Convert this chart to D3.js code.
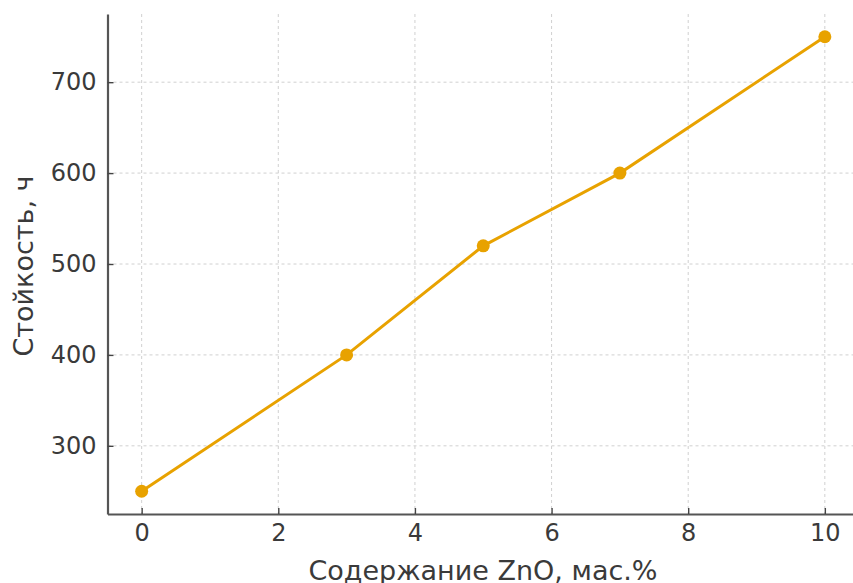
<!DOCTYPE html>
<html><head><meta charset="utf-8">
<script src="https://cdn.jsdelivr.net/npm/d3@7"></script>
<style>body{margin:0;background:#fff}svg{display:block}</style>
</head><body>
<svg id="c" width="853" height="583"></svg>
<script>
const zno = [0, 3, 5, 7, 10];
const durability = [250, 400, 520, 600, 750];
const xTicks = [0, 2, 4, 6, 8, 10];
const yTicks = [300, 400, 500, 600, 700];
const xLabel = "Содержание ZnO, мас.%";
const yLabel = "Стойкость, ч";

const svg = d3.select("#c");
const L = 107.5, R = 859, T = 14, B = 514;
const x = d3.scaleLinear().domain([-0.5, 10.5]).range([L, R]);
const y = d3.scaleLinear().domain([225, 775]).range([B, T]);
const font = "DejaVu Sans, sans-serif";
const col = "#E8A200";
const txt = "#3a3a3a";

// grid
svg.append("g").selectAll("line").data(xTicks).join("line")
  .attr("x1", d => x(d)).attr("x2", d => x(d)).attr("y1", T).attr("y2", B)
  .attr("stroke", "#d0d0d0").attr("stroke-width", 1).attr("stroke-dasharray", "3,3");
svg.append("g").selectAll("line").data(yTicks).join("line")
  .attr("y1", d => y(d)).attr("y2", d => y(d)).attr("x1", L).attr("x2", R)
  .attr("stroke", "#d0d0d0").attr("stroke-width", 1).attr("stroke-dasharray", "3,3");

// axes (ticks pointing inward)
const xa = svg.append("g").attr("transform", `translate(0,${B})`)
  .call(d3.axisBottom(x).tickValues(xTicks).tickSizeInner(-6).tickSizeOuter(0).tickPadding(10));
const ya = svg.append("g").attr("transform", `translate(${L},0)`)
  .call(d3.axisLeft(y).tickValues(yTicks).tickSizeInner(-6).tickSizeOuter(0).tickPadding(11));
[xa, ya].forEach(a => {
  a.select(".domain").attr("stroke", "#555").attr("stroke-width", 2.2);
  a.selectAll(".tick line").attr("stroke", "#444").attr("stroke-width", 1.4);
  a.selectAll(".tick text").attr("fill", txt).style("font-family", font).style("font-size", "24px");
});

// line
svg.append("path").datum(zno.map((d, i) => [d, durability[i]]))
  .attr("fill", "none").attr("stroke", col).attr("stroke-width", 3)
  .attr("d", d3.line().x(d => x(d[0])).y(d => y(d[1])));
svg.append("g").selectAll("circle").data(zno).join("circle")
  .attr("cx", d => x(d)).attr("cy", (d, i) => y(durability[i])).attr("r", 6.5)
  .attr("fill", col);

// labels
svg.append("text").attr("x", 483).attr("y", 580)
  .attr("text-anchor", "middle").attr("fill", txt)
  .style("font-family", font).style("font-size", "27px").text(xLabel);
svg.append("text").attr("transform", `translate(33,266) rotate(-90)`)
  .attr("text-anchor", "middle").attr("fill", txt)
  .style("font-family", font).style("font-size", "27px").text(yLabel);
</script>
</body></html>
